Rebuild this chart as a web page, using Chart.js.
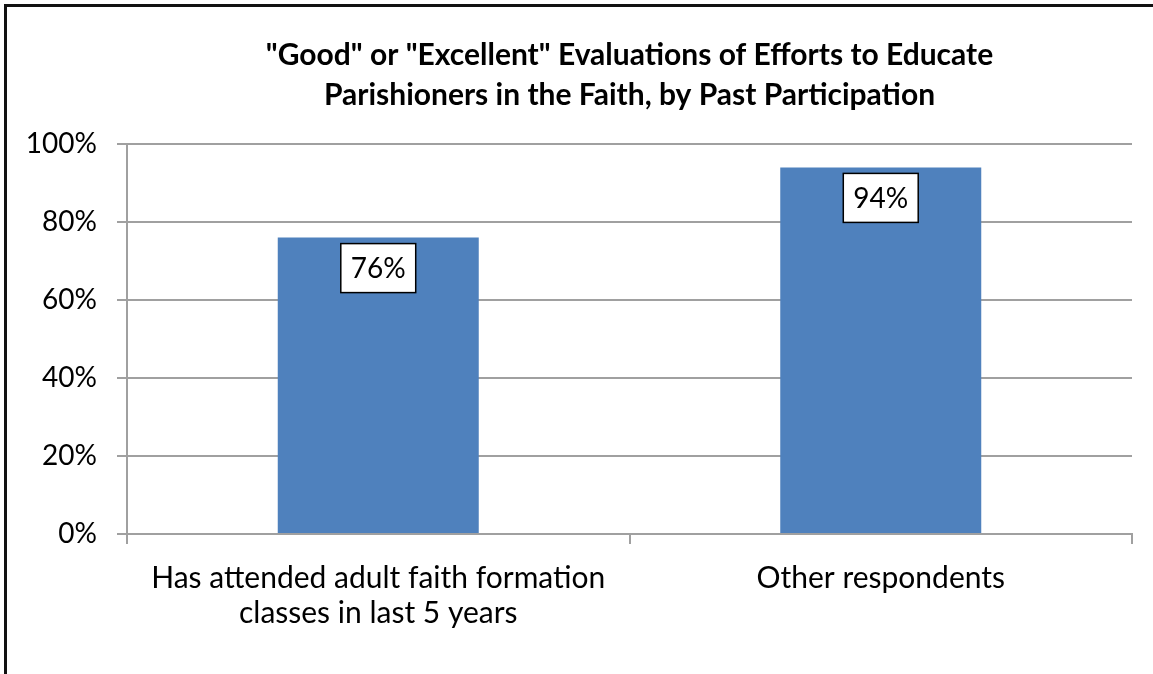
<!DOCTYPE html>
<html>
<head>
<meta charset="utf-8">
<script src="https://cdn.jsdelivr.net/npm/chart.js@4/dist/chart.umd.min.js"></script>
<style>
    html, body { margin: 0; padding: 0; background: #fff; }
    #wrap { position: relative; width: 1153px; height: 674px; overflow: hidden; }
    #frame {
        position: absolute; left: 4px; top: 4px; width: 1200px; height: 700px;
        border-top: 3px solid #111; border-left: 3px solid #111; pointer-events: none;
    }
</style>
</head>
<body>
<div id="wrap">
    <canvas id="chart" width="1153" height="674"></canvas>
    <div id="frame"></div>
</div>
<script>
const titleLines = ['"Good" or "Excellent" Evaluations of Efforts to Educate', 'Parishioners in the Faith, by Past Participation'];
const categories = [['Has attended adult faith formation', 'classes in last 5 years'], 'Other respondents'];
const values = [76, 94];
const yTicks = [0, 20, 40, 60, 80, 100];

const FONT = 'Lato, Calibri, Carlito, sans-serif';
const GRID = '#a0a0a0';

// boxed value labels just under the top of each bar
const boxLabels = {
    id: 'boxLabels',
    afterDatasetsDraw(chart) {
        const ctx = chart.ctx;
        const meta = chart.getDatasetMeta(0);
        ctx.save();
        ctx.font = '28px ' + FONT;
        ctx.textAlign = 'center';
        ctx.textBaseline = 'middle';
        meta.data.forEach((bar, i) => {
            const text = values[i] + '%';
            const w = ctx.measureText(text).width + 20;
            const h = 49;
            const x = bar.x - w / 2;
            const y = bar.y + 6;
            ctx.fillStyle = '#fff';
            ctx.fillRect(x, y, w, h);
            ctx.lineWidth = 1.5;
            ctx.strokeStyle = '#000';
            ctx.strokeRect(x, y, w, h);
            ctx.fillStyle = '#000';
            ctx.fillText(text, bar.x, y + h / 2 + 1);
        });
        ctx.restore();
    }
};

new Chart(document.getElementById('chart'), {
    type: 'bar',
    data: {
        labels: categories,
        datasets: [{
            data: values,
            backgroundColor: '#4f81bd',
            barPercentage: 0.4,
            categoryPercentage: 1.0
        }]
    },
    options: {
        responsive: false,
        animation: false,
        layout: { padding: { left: 0, right: 21, top: 0, bottom: 0 } },
        plugins: {
            legend: { display: false },
            tooltip: { enabled: false },
            title: {
                display: true,
                fullSize: false, // centre over the plot area, not the canvas
                text: titleLines,
                color: '#000',
                font: { family: FONT, size: 30, weight: 'bold', lineHeight: 40 / 30 },
                padding: { top: 35, bottom: 29 }
            }
        },
        scales: {
            x: {
                grid: { display: true, drawOnChartArea: false, offset: true, tickLength: 10, color: GRID, lineWidth: 2 },
                border: { display: true, color: GRID, width: 2 },
                ticks: { color: '#000', font: { family: FONT, size: 30, lineHeight: 35 / 30 }, padding: 17, maxRotation: 0 },
                afterFit(scale) { scale.height = 140; }
            },
            y: {
                min: 0,
                max: 100,
                afterBuildTicks(scale) { scale.ticks = yTicks.map(v => ({ value: v })); },
                grid: { color: GRID, lineWidth: 2, tickLength: 10 },
                border: { display: true, color: GRID, width: 2 },
                ticks: {
                    color: '#000',
                    font: { family: FONT, size: 28 },
                    padding: 20,
                    callback: v => v + '%'
                },
                afterFit(scale) { scale.width = 127; }
            }
        }
    },
    plugins: [boxLabels]
});
</script>
</body>
</html>
